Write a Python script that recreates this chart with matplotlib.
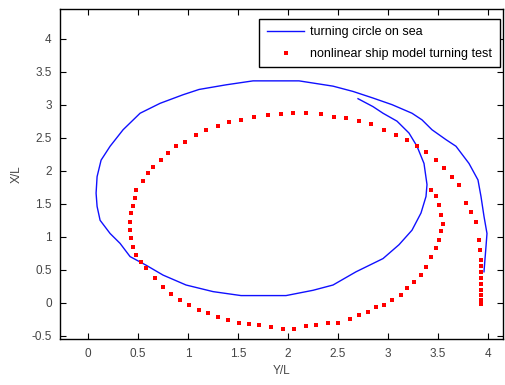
import matplotlib
matplotlib.use("Agg")
import matplotlib.pyplot as plt
import numpy as np

# turning circle measured at sea (Y/L, X/L)
sea_y = [3.96, 3.98, 3.99, 3.96, 3.93, 3.90, 3.81, 3.68, 3.58, 3.44, 3.34, 3.24,
         3.04, 2.85, 2.65, 2.45, 2.11, 1.65, 1.38, 1.11, 0.95, 0.72, 0.52, 0.35,
         0.22, 0.13, 0.09, 0.08, 0.09, 0.12, 0.22, 0.32, 0.42, 0.58, 0.75, 0.98,
         1.25, 1.53, 1.98, 2.25, 2.45, 2.68, 2.95, 3.11, 3.24, 3.33, 3.38, 3.39,
         3.36, 3.29, 3.21, 3.09, 2.95, 2.85, 2.70]
sea_x = [0.47, 0.85, 1.05, 1.31, 1.61, 1.86, 2.11, 2.37, 2.47, 2.62, 2.77, 2.87,
         3.00, 3.10, 3.20, 3.28, 3.36, 3.36, 3.30, 3.23, 3.15, 3.02, 2.87, 2.62,
         2.37, 2.16, 1.91, 1.66, 1.46, 1.25, 1.05, 0.90, 0.70, 0.57, 0.42, 0.27,
         0.17, 0.11, 0.11, 0.19, 0.27, 0.47, 0.67, 0.88, 1.10, 1.36, 1.61, 1.79,
         2.11, 2.37, 2.57, 2.75, 2.87, 2.97, 3.09]

# nonlinear ship model turning test (Y/L, X/L)
model_y = [3.93, 3.93, 3.93, 3.93, 3.93, 3.93, 3.93, 3.93, 3.93, 3.92, 3.91,
           3.88, 3.83, 3.78, 3.71, 3.64, 3.56, 3.48, 3.38, 3.29, 3.19, 3.08,
           2.96, 2.83, 2.71, 2.58, 2.46, 2.33, 2.18, 2.05, 1.93, 1.80, 1.66,
           1.53, 1.41, 1.30, 1.18, 1.08, 0.97, 0.88, 0.80, 0.73, 0.65, 0.60,
           0.55, 0.48, 0.47, 0.45, 0.43, 0.42, 0.42, 0.43, 0.45, 0.48, 0.53,
           0.58, 0.67, 0.75, 0.83, 0.92, 1.01, 1.11, 1.20, 1.30, 1.40, 1.51,
           1.61, 1.71, 1.83, 1.95, 2.06, 2.18, 2.28, 2.40, 2.50, 2.62, 2.71,
           2.80, 2.88, 2.96, 3.04, 3.13, 3.19, 3.26, 3.33, 3.38, 3.43, 3.48,
           3.51, 3.53, 3.55, 3.53, 3.51, 3.48, 3.43]
model_x = [-0.01, 0.05, 0.12, 0.20, 0.29, 0.38, 0.47, 0.56, 0.65, 0.80, 0.95,
           1.23, 1.38, 1.51, 1.79, 1.91, 2.04, 2.16, 2.29, 2.37, 2.47, 2.54,
           2.62, 2.70, 2.75, 2.80, 2.82, 2.86, 2.87, 2.87, 2.86, 2.84, 2.81,
           2.77, 2.74, 2.67, 2.62, 2.54, 2.44, 2.37, 2.27, 2.16, 2.06, 1.96,
           1.84, 1.71, 1.58, 1.46, 1.36, 1.23, 1.10, 0.98, 0.85, 0.72, 0.62,
           0.52, 0.37, 0.24, 0.14, 0.04, -0.03, -0.11, -0.16, -0.21, -0.26, -0.30,
           -0.32, -0.34, -0.36, -0.39, -0.39, -0.35, -0.34, -0.31, -0.30, -0.24, -0.19,
           -0.14, -0.06, -0.03, 0.04, 0.12, 0.22, 0.32, 0.42, 0.55, 0.70, 0.83,
           0.95, 1.08, 1.20, 1.33, 1.48, 1.61, 1.71]

xticks = np.arange(0, 4.01, 0.5)
yticks = np.arange(-0.5, 4.01, 0.5)

def fmt(v):
    return ('%g' % round(v, 2))

plt.rcParams['font.family'] = ['Liberation Sans', 'DejaVu Sans']

fig = plt.figure(figsize=(5.05, 3.85), dpi=100)
ax = fig.add_axes([0.119, 0.119, 0.877, 0.858])

ax.plot(sea_y, sea_x, color='#1010ff', linewidth=1.0, label='turning circle on sea')
ax.plot(model_y, model_x, linestyle='none', marker='s', markersize=2.5,
        color='red', markeredgewidth=0, label='nonlinear ship model turning test')

ax.set_xlim(-0.28, 4.15)
ax.set_ylim(-0.55, 4.45)
ax.set_xticks(xticks)
ax.set_xticklabels([fmt(v) for v in xticks])
ax.set_yticks(yticks)
ax.set_yticklabels([fmt(v) for v in yticks])
ax.tick_params(direction='in', top=True, right=True, length=4, width=0.8,
               labelsize=8.5, labelcolor='#444444', pad=6)
for s in ax.spines.values():
    s.set_linewidth(1.0)

ax.set_xlabel('Y/L', fontsize=8.5, color='#444444', labelpad=4)
ax.set_ylabel('X/L', fontsize=8.5, color='#444444', labelpad=6)

leg = ax.legend(loc='upper right', bbox_to_anchor=(500 / 505, 1 - 19 / 385),
                bbox_transform=fig.transFigure, fontsize=9, fancybox=False,
                edgecolor='black', framealpha=1, borderpad=0.6,
                handlelength=3.0, handletextpad=0.5, labelspacing=0.75,
                borderaxespad=0)
leg.get_frame().set_linewidth(1.0)

fig.savefig('out.png', dpi=100)
